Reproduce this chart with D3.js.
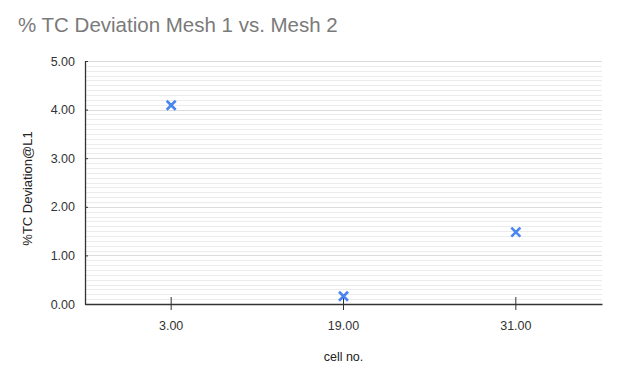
<!DOCTYPE html>
<html>
<head>
<meta charset="utf-8">
<script src="https://cdn.jsdelivr.net/npm/d3@7/dist/d3.min.js"></script>
<style>
  body { margin: 0; background: #fff; }
  text { font-family: Arial, "Liberation Sans", sans-serif; }
</style>
</head>
<body>
<div class="chart"></div>
<script>
// data
const cells = ["3.00", "19.00", "31.00"]
const deviation = [4.09, 0.16, 1.48]
const yTicks = [0, 1, 2, 3, 4, 5]

const title = "% TC Deviation Mesh 1 vs. Mesh 2"
const xLabel = "cell no."
const yLabel = "%TC Deviation@L1"

const W = 618, H = 378
const margin = {top: 61, right: 16, bottom: 74, left: 85},
    width = W - margin.left - margin.right,
    height = H - margin.top - margin.bottom

const svg = d3.select(".chart")
  .append("svg")
    .attr("width", W)
    .attr("height", H)

svg.append("text")
  .attr("x", 18)
  .attr("y", 32)
  .attr("fill", "#7a7a7a")
  .style("font-size", "20.5px")
  .text(title)

const g = svg.append("g")
  .attr("transform", `translate(${margin.left},${margin.top})`)

const x = d3.scaleBand()
  .domain(cells)
  .range([0, width])

const y = d3.scaleLinear()
  .domain([0, 5])
  .range([height, 0])

// minor gridlines every 0.1
const minor = d3.range(1, 50).filter(i => i % 10 != 0).map(i => i / 10)
g.append("g")
  .selectAll("line")
  .data(minor)
  .join("line")
    .attr("x1", 0)
    .attr("x2", width)
    .attr("y1", d => Math.round(y(d)) + 0.5)
    .attr("y2", d => Math.round(y(d)) + 0.5)
    .attr("stroke", "#ececec")
    .attr("stroke-width", 1)

g.append("g")
  .selectAll("line")
  .data(yTicks.filter(d => d > 0))
  .join("line")
    .attr("x1", 0)
    .attr("x2", width)
    .attr("y1", d => Math.round(y(d)) + 0.5)
    .attr("y2", d => Math.round(y(d)) + 0.5)
    .attr("stroke", "#dcdcdc")
    .attr("stroke-width", 1)

// y axis
const yAxis = g.append("g")
  .call(d3.axisLeft(y).tickValues(yTicks).tickFormat(d3.format(".2f")).tickSize(7).tickSizeOuter(0))
yAxis.select(".domain").attr("stroke", "#333").attr("stroke-width", 1.3)
yAxis.selectAll(".tick line").attr("stroke", "#333").attr("x2", 3)
yAxis.selectAll(".tick text")
  .attr("fill", "#333")
  .attr("x", -10)
  .style("font-size", "12.5px")
  .style("font-family", "Arial, 'Liberation Sans', sans-serif")

// x axis
const xAxis = g.append("g")
  .attr("transform", `translate(0,${height})`)
  .call(d3.axisBottom(x).tickSize(6).tickSizeOuter(0))
xAxis.select(".domain").attr("stroke", "#333").attr("stroke-width", 1.3)
xAxis.selectAll(".tick line").attr("stroke", "#333").attr("y1", -7)
xAxis.selectAll(".tick text")
  .attr("fill", "#333")
  .attr("y", 17)
  .style("font-size", "12.5px")
  .style("font-family", "Arial, 'Liberation Sans', sans-serif")

// markers
const s = 4.5
g.append("g")
  .selectAll("path")
  .data(cells.map((c, i) => ({cell: c, value: deviation[i]})))
  .join("path")
    .attr("transform", d => `translate(${x(d.cell) + x.bandwidth() / 2},${y(d.value)})`)
    .attr("d", `M${-s},${-s}L${s},${s}M${-s},${s}L${s},${-s}`)
    .attr("stroke", "#4a86f0")
    .attr("stroke-width", 2.6)
    .attr("fill", "none")

svg.append("text")
  .attr("x", margin.left + width / 2)
  .attr("y", 361)
  .attr("text-anchor", "middle")
  .attr("fill", "#222")
  .style("font-size", "12.5px")
  .text(xLabel)

svg.append("text")
  .attr("transform", `translate(32,${margin.top + height / 2 + 6}) rotate(-90)`)
  .attr("text-anchor", "middle")
  .attr("fill", "#222")
  .style("font-size", "13px")
  .text(yLabel)
</script>
</body>
</html>
